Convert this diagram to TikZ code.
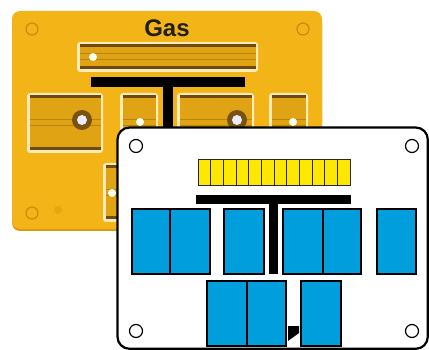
\documentclass[tikz,border=0pt]{standalone}
\usepackage{fontspec}
\setmainfont{Liberation Sans}
\definecolor{panelY}{HTML}{F3B417}
\definecolor{panelEdge}{HTML}{D99A0C}
\definecolor{slotBody}{HTML}{DFA313}
\definecolor{slotDark}{HTML}{6E4A0E}
\definecolor{slotStripe}{HTML}{B8840E}
\definecolor{slotRim}{HTML}{FBEBB8}
\definecolor{ringC}{HTML}{7A520F}
\definecolor{holeC}{HTML}{C88A10}
\definecolor{cellY}{HTML}{FFE800}
\definecolor{boxB}{HTML}{009EDC}
\newcommand\gslot[4]{%
  \fill[slotRim, rounded corners=3] (#1,#2) rectangle (#3,#4);
  \fill[slotBody] (#1+2.5,#2+2.5) rectangle (#3-2.5,#4-2.5);
  \fill[slotDark] (#1+2.5,#2+2.5) rectangle (#3-2.5,#2+5.5);
  \fill[slotDark] (#1+2.5,#4-5.5) rectangle (#3-2.5,#4-2.5);
  \draw[slotStripe, line width=1] (#1+2.5,{(#2+#4)/2-3}) -- (#3-2.5,{(#2+#4)/2-3});
  \draw[slotStripe, line width=1] (#1+2.5,{(#2+#4)/2+3}) -- (#3-2.5,{(#2+#4)/2+3});
}
\tikzset{
  ring/.style={fill=ringC},
  hole/.style={fill=white!92!blue},
  dot/.style={fill=white!95!yellow},
  corner/.style={draw=holeC, line width=1.2},
  bbox/.style={draw=black, fill=boxB, line width=2},
  cell/.style={draw=black!85, fill=cellY, line width=1},
  whitehole/.style={draw=black, fill=white, line width=1.2},
}
\begin{document}
\begin{tikzpicture}[x=1pt,y=-1pt]
\useasboundingbox (0,0) rectangle (429,350);
% ---------- yellow (Gas) panel ----------
\fill[panelEdge, rounded corners=8] (12,13) rectangle (322,231);
\fill[panelY, rounded corners=8] (12,11) rectangle (322,229);
\node[font=\bfseries, text=black!88, font=\fontsize{24}{28}\selectfont\bfseries] (gas) at (167,28) {Gas};
\foreach \p in {(32,29),(303,29),(32,213)} \draw[corner] \p circle (6);
\fill[panelEdge, opacity=0.5] (58,210) circle (4);
% top bar slot
\gslot{77}{42}{258}{72}
\fill[dot] (93,57) circle (4);
% black T
\fill[black] (91,77) rectangle (245,87);
\fill[black] (163,87) rectangle (173,135);
% row 1 slots
\gslot{27}{93}{103}{153}
\fill[ring] (82,120) circle (10);
\fill[hole] (82,120) circle (5);
\gslot{120}{93}{158}{153}
\fill[dot] (140,122) circle (4);
\gslot{177}{93}{254}{153}
\fill[ring] (237,120) circle (10);
\fill[hole] (237,120) circle (5);
\gslot{269}{93}{308}{153}
\fill[dot] (293,122) circle (4);
% row 2 slot
\gslot{103}{163}{145}{222}
\fill[dot] (112,193) circle (4);
% ---------- white panel ----------
\draw[line width=2.2, fill=white, rounded corners=12] (117.5,127.5) rectangle (427.8,348.8);
\foreach \p in {(136,146),(412,146),(136,331),(412,331)} \draw[whitehole] \p circle (6.5);
% yellow cells
\foreach \i in {0,...,11} \draw[cell] ({198+\i*12.67},160) rectangle ++(12.67,26);
% black T
\fill[black] (196,195) rectangle (351,204);
\fill[black] (269,204) rectangle (278,274);
% blue boxes row 1
\draw[bbox] (132,209) rectangle (210,274);
\draw[line width=2] (170,209) -- (170,274);
\draw[bbox] (224,209) rectangle (264,274);
\draw[bbox] (283,209) rectangle (361,274);
\draw[line width=2] (323,209) -- (323,274);
\draw[bbox] (377,209) rectangle (416,274);
% blue boxes row 2
\draw[bbox] (207,281) rectangle (286,346);
\draw[line width=2] (247,281) -- (247,346);
\draw[bbox] (301,281) rectangle (341,346);
\fill[black] (288,326) -- (299,326) -- (299,333) -- (288,341) -- cycle;
\end{tikzpicture}
\end{document}
